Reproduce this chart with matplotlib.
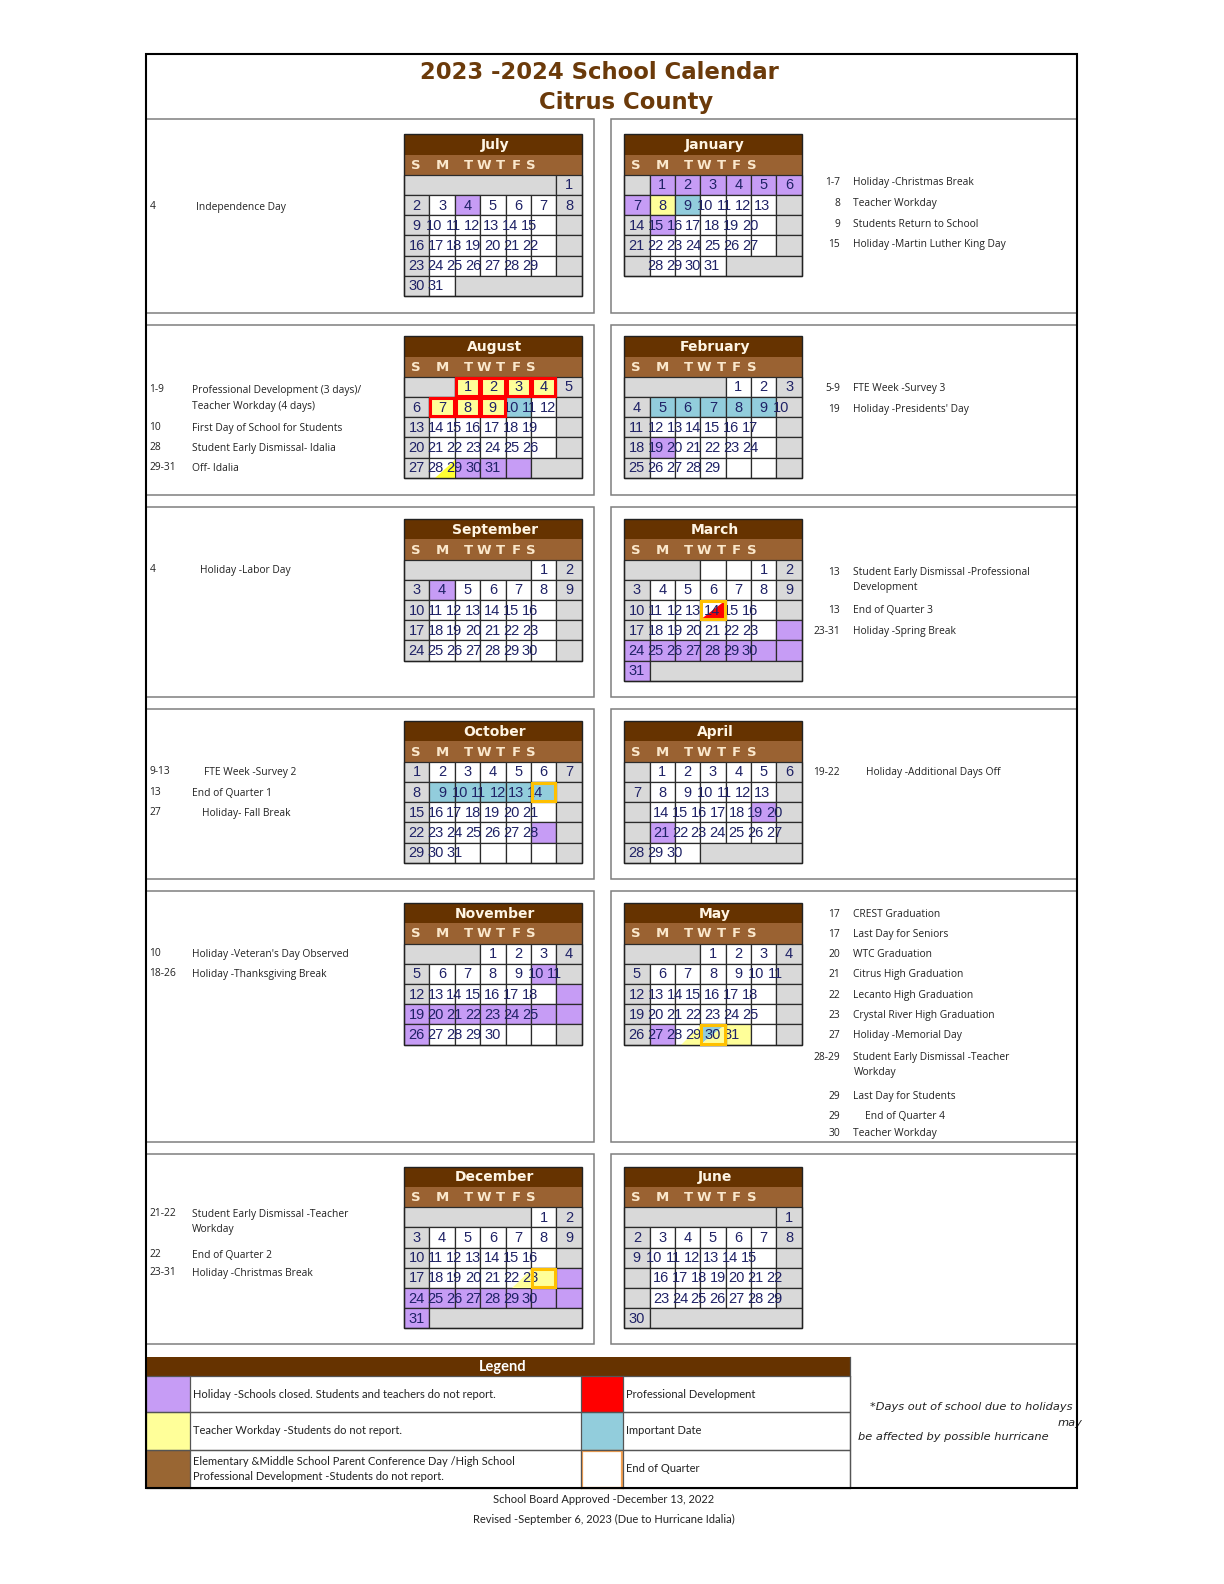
import matplotlib
matplotlib.use('Agg')
import matplotlib.pyplot as plt
from matplotlib.patches import Rectangle, Polygon

# ---------------- data ----------------
months_left = ['July', 'August', 'September', 'October', 'November', 'December']
months_right = ['January', 'February', 'March', 'April', 'May', 'June']

# weekday of the 1st (0 = Sunday) and month length
first_weekday = {'July': 6, 'August': 2, 'September': 5, 'October': 0, 'November': 3, 'December': 5,
                 'January': 1, 'February': 4, 'March': 5, 'April': 1, 'May': 3, 'June': 6}
days_in_month = {'July': 31, 'August': 31, 'September': 30, 'October': 31, 'November': 30, 'December': 31,
                 'January': 31, 'February': 29, 'March': 31, 'April': 30, 'May': 31, 'June': 30}

holiday_days = {'July': [4], 'August': [29, 30, 31], 'September': [4], 'October': [27],
                'November': [10, 18, 19, 20, 21, 22, 23, 24, 25, 26],
                'December': [23, 24, 25, 26, 27, 28, 29, 30, 31],
                'January': [1, 2, 3, 4, 5, 6, 7, 15], 'February': [19],
                'March': [23, 24, 25, 26, 27, 28, 29, 30, 31], 'April': [19, 22], 'May': [27]}
workday_days = {'August': [1, 2, 3, 4, 7, 8, 9], 'December': [22], 'January': [8], 'May': [30]}
important_days = {'August': [10], 'October': [9, 10, 11, 12, 13], 'January': [9], 'February': [5, 6, 7, 8, 9]}
prodev_days = {'August': [1, 2, 3, 4, 7, 8, 9]}
quarter_end_days = {'October': [13], 'December': [22], 'March': [13], 'May': [29]}
half_yellow_days = {'August': [28], 'December': [21], 'May': [28]}
half_red_days = {'March': [13]}
split_blue_yellow_days = {'May': [29]}
# empty cells that are white instead of grey: (row, col)
white_blanks = {'March': [(0, 3), (0, 4)], 'October': [(4, 3), (4, 4), (4, 5)],
                'November': [(4, 5)], 'February': [(4, 5)]}

events = {
    'July': [('4', 'Independence Day')],
    'August': [('1-9', 'Professional Development (3 days)/\nTeacher Workday (4 days)'),
               ('10', 'First Day of School for Students'),
               ('28', 'Student Early Dismissal- Idalia'),
               ('29-31', 'Off- Idalia')],
    'September': [('4', 'Holiday -Labor Day')],
    'October': [('9-13', 'FTE Week -Survey 2'), ('13', 'End of Quarter 1'), ('27', 'Holiday- Fall Break')],
    'November': [('10', "Holiday -Veteran's Day Observed"), ('18-26', 'Holiday -Thanksgiving Break')],
    'December': [('21-22', 'Student Early Dismissal -Teacher\nWorkday'), ('22', 'End of Quarter 2'),
                 ('23-31', 'Holiday -Christmas Break')],
    'January': [('1-7', 'Holiday -Christmas Break'), ('8', 'Teacher Workday'),
                ('9', 'Students Return to School'), ('15', 'Holiday -Martin Luther King Day')],
    'February': [('5-9', 'FTE Week -Survey 3'), ('19', "Holiday -Presidents' Day")],
    'March': [('13', 'Student Early Dismissal -Professional\nDevelopment'), ('13', 'End of Quarter 3'),
              ('23-31', 'Holiday -Spring Break')],
    'April': [('19-22', 'Holiday -Additional Days Off')],
    'May': [('17', 'CREST Graduation'), ('17', 'Last Day for Seniors'), ('20', 'WTC Graduation'),
            ('21', 'Citrus High Graduation'), ('22', 'Lecanto High Graduation'),
            ('23', 'Crystal River High Graduation'), ('27', 'Holiday -Memorial Day'),
            ('28-29', 'Student Early Dismissal -Teacher\nWorkday'), ('29', 'Last Day for Students'),
            ('29', 'End of Quarter 4'), ('30', 'Teacher Workday')],
    'June': [],
}

legend_left = ['Holiday -Schools closed. Students and teachers do not report.',
               'Teacher Workday -Students do not report.',
               'Elementary &Middle School Parent Conference Day /High School\nProfessional Development -Students do not report.']
legend_right = ['Professional Development', 'Important Date', 'End of Quarter']

# ---------------- layout ----------------
event_y = {'July': [205], 'August': [387, 424, 444, 464], 'September': [565], 'October': [765, 785, 805],
           'November': [945, 965], 'December': [1202, 1243, 1261],
           'January': [181, 201, 222, 242], 'February': [385, 405], 'March': [567, 604, 625],
           'April': [765], 'May': [905, 925, 945, 965, 985, 1005, 1025, 1047, 1085, 1105, 1122], 'June': []}
desc_x_override = {('July', 0): 194, ('September', 0): 198, ('October', 0): 202, ('October', 2): 200,
                   ('April', 0): 858, ('May', 9): 857}
text_shift = {('January', 4): 18, ('April', 2): 24, ('April', 3): 24, ('June', 3): 24, ('June', 4): 24}

PURPLE = '#C69CF5'
YELLOW = '#FFFF99'
BLUE = '#92CDDC'
GREY = '#D9D9D9'
DARK = '#663300'
MID = '#9A6232'
NUM = '#1F2266'
GOLD = '#FFC000'

CW = 176 / 7.0
RH = 20
cal_tops = [133, 333, 514, 714, 894, 1155]
panel_y = [(118, 310), (322, 490), (502, 690), (702, 870), (882, 1130), (1142, 1330)]
dow_off = [11.5, 38, 63.5, 79.5, 96, 111, 126]

fig = plt.figure(figsize=(12.24, 15.84), dpi=100)
ax = fig.add_axes([0, 0, 1, 1])
ax.set_xlim(0, 1212)
ax.set_ylim(1568, 0)
ax.axis('off')


def rect(x, y, w, h, fc='none', ec='none', lw=0.0, z=1):
    ax.add_patch(Rectangle((x, y), w, h, facecolor=fc, edgecolor=ec, linewidth=lw, zorder=z))


def draw_month(name, x0, y0):
    first = first_weekday[name]
    n = days_in_month[name]
    nrows = (first + n + 6) // 7
    rect(x0, y0, 176, 20, fc=DARK, z=2)
    rect(x0, y0 + 20, 176, 20, fc=MID, z=2)
    ax.text(x0 + 90, y0 + 10.5, name, ha='center', va='center', fontsize=10, fontweight='bold',
            color='#FFF5E4', family='DejaVu Sans', zorder=5)
    for k, lt in enumerate('SMTWTFS'):
        ax.text(x0 + dow_off[k], y0 + 30.5, lt, ha='center', va='center', fontsize=9.5,
                fontweight='bold', color='#FBE8CC', family='DejaVu Sans', zorder=5)
    hol = holiday_days.get(name, [])
    wd = workday_days.get(name, [])
    imp = important_days.get(name, [])
    wb = white_blanks.get(name, [])
    for r in range(nrows):
        ry = y0 + 40 + r * RH
        cells = []
        for c in range(7):
            idx = r * 7 + c - first
            day = idx + 1 if 0 <= idx < n else None
            if day is None:
                fc = 'white' if (r, c) in wb else GREY
            elif day in hol:
                fc = PURPLE
            elif day in wd:
                fc = YELLOW
            elif day in imp:
                fc = BLUE
            elif c in (0, 6):
                fc = GREY
            else:
                fc = 'white'
            cells.append((c, day, fc))
        # merge grey blank runs
        c = 0
        while c < 7:
            col, day, fc = cells[c]
            if day is None and fc == GREY:
                c2 = c
                while c2 + 1 < 7 and cells[c2 + 1][1] is None and cells[c2 + 1][2] == GREY:
                    c2 += 1
                rect(x0 + c * CW, ry, (c2 - c + 1) * CW, RH, fc=GREY, ec='#2b2b2b', lw=0.9, z=2)
                c = c2 + 1
            else:
                rect(x0 + c * CW, ry, CW, RH, fc=fc, ec='#2b2b2b', lw=0.9, z=2)
                c += 1
        # overlays
        for col, day, fc in cells:
            if day is None:
                continue
            cx = x0 + col * CW
            if day in half_yellow_days.get(name, []):
                ax.add_patch(Polygon([(cx + CW, ry + 2), (cx + CW, ry + RH), (cx + 6, ry + RH)],
                                     closed=True, facecolor='#FFFF33' if name == 'August' else YELLOW,
                                     edgecolor='none', zorder=3))
            if day in half_red_days.get(name, []):
                ax.add_patch(Polygon([(cx + CW, ry), (cx + CW, ry + RH), (cx, ry + RH)],
                                     closed=True, facecolor='#FF0000', edgecolor='none', zorder=3))
            if day in split_blue_yellow_days.get(name, []):
                ax.add_patch(Polygon([(cx, ry), (cx + CW, ry), (cx, ry + RH)],
                                     closed=True, facecolor=BLUE, edgecolor='none', zorder=3))
                ax.add_patch(Polygon([(cx + CW, ry), (cx + CW, ry + RH), (cx, ry + RH)],
                                     closed=True, facecolor=YELLOW, edgecolor='none', zorder=3))
            if day in prodev_days.get(name, []):
                rect(cx + 1, ry + 1, CW - 2, RH - 2, ec='#FF0000', lw=2.2, z=6)
            if day in quarter_end_days.get(name, []):
                rect(cx + 1, ry + 1, CW - 2, RH - 2, ec=GOLD, lw=2.2, z=6)
        # numbers
        c0 = None
        for col, day, fc in cells:
            if day is not None and day >= 10:
                c0 = col
                break
        shift = text_shift.get((name, r), 0)
        for col, day, fc in cells:
            if day is None:
                continue
            if day < 10:
                tx = x0 + col * CW + CW / 2
            else:
                base = x0 + CW / 2 if c0 == 0 else x0 + c0 * CW + 5
                tx = base + (col - c0) * 18.7
            ax.text(tx + shift, ry + 10.5, str(day), ha='center', va='center', fontsize=10.5,
                    color=NUM, family='Liberation Sans', zorder=5)
    rect(x0, y0, 176, 40 + nrows * RH, ec='#222222', lw=1.0, z=4)


def draw_events(name, side):
    for i, (d, desc) in enumerate(events[name]):
        y = event_y[name][i]
        if side == 'left':
            ax.text(148, y - 1, d, ha='left', va='center', fontsize=7.4, family='Open Sans', color='#222222')
            dx = desc_x_override.get((name, i), 190)
        else:
            ax.text(832, y, d, ha='right', va='center', fontsize=7.4, family='Open Sans', color='#222222')
            dx = desc_x_override.get((name, i), 845)
        for j, line in enumerate(desc.split('\n')):
            ax.text(dx, y + j * 15, line, ha='left', va='center', fontsize=7.4, family='Open Sans',
                    color='#222222')


# title
ax.text(594, 72, '2023 -2024 School Calendar', ha='center', va='center', fontsize=16.4,
        fontweight='bold', color='#6B3A0A', family='DejaVu Sans')
ax.text(620, 101, 'Citrus County', ha='center', va='center', fontsize=16.4,
        fontweight='bold', color='#6B3A0A', family='DejaVu Sans')

# panels
for (pt, pb) in panel_y:
    rect(145, pt, 588 - 145, pb - pt, ec='#7f7f7f', lw=1.1, z=1)
    rect(605, pt, 1066 - 605, pb - pt, ec='#7f7f7f', lw=1.1, z=1)

for i, m in enumerate(months_left):
    draw_month(m, 400, cal_tops[i])
    draw_events(m, 'left')
for i, m in enumerate(months_right):
    draw_month(m, 618, cal_tops[i])
    draw_events(m, 'right')

# legend
rect(145, 1343, 842 - 145, 19, fc=DARK, z=2)
ax.text(498, 1353, 'Legend', ha='center', va='center', fontsize=10.5, fontweight='bold',
        color='white', family='Lato', zorder=5)
row_edges = [1362, 1398, 1435, 1473]
left_sw = [PURPLE, YELLOW, '#996633']
right_sw = ['#FF0000', BLUE, 'white']
for k in range(3):
    top, bot = row_edges[k], row_edges[k + 1]
    rect(145, top, 43, bot - top, fc=left_sw[k], z=2)
    if k < 2:
        rect(575, top, 42, bot - top, fc=right_sw[k], z=2)
    else:
        rect(576, top + 1, 40, bot - top - 1, fc='white', ec='#F4A050', lw=1.6, z=3)
    rect(145, top, 842 - 145, bot - top, ec='#555555', lw=0.9, z=3)
    lines = legend_left[k].split('\n')
    ymid = (top + bot) / 2
    for j, line in enumerate(lines):
        yy = ymid + (j - (len(lines) - 1) / 2) * 15
        ax.text(191, yy, line, ha='left', va='center', fontsize=8, family='Lato',
                color='#222222', zorder=5)
    ax.text(620, ymid, legend_right[k], ha='left', va='center', fontsize=8, family='Lato',
            color='#222222', zorder=5)
for vx in [188, 575, 617, 842]:
    ax.plot([vx, vx], [1362, 1473], color='#555555', lw=0.9, zorder=3)
ax.plot([842, 842], [1343, 1362], color='#555555', lw=0.9, zorder=3)

ax.text(861, 1393, '*Days out of school due to holidays', ha='left', va='center', fontsize=8.2,
        style='italic', family='DejaVu Sans', color='#222222')
ax.text(1072, 1409, 'may', ha='right', va='center', fontsize=8.2, style='italic',
        family='DejaVu Sans', color='#222222')
ax.text(850, 1422, 'be affected by possible hurricane', ha='left', va='center', fontsize=8.2,
        style='italic', family='DejaVu Sans', color='#222222')

# outer frame
rect(145, 53, 1066 - 145, 1473 - 53, ec='black', lw=1.5, z=7)

ax.text(598, 1484, 'School Board Approved -December 13, 2022', ha='center', va='center',
        fontsize=8, family='Lato', color='#222222')
ax.text(598, 1504, 'Revised -September 6, 2023 (Due to Hurricane Idalia)', ha='center', va='center',
        fontsize=8, family='Lato', color='#222222')

fig.savefig('out.png', dpi=100, facecolor='white')
